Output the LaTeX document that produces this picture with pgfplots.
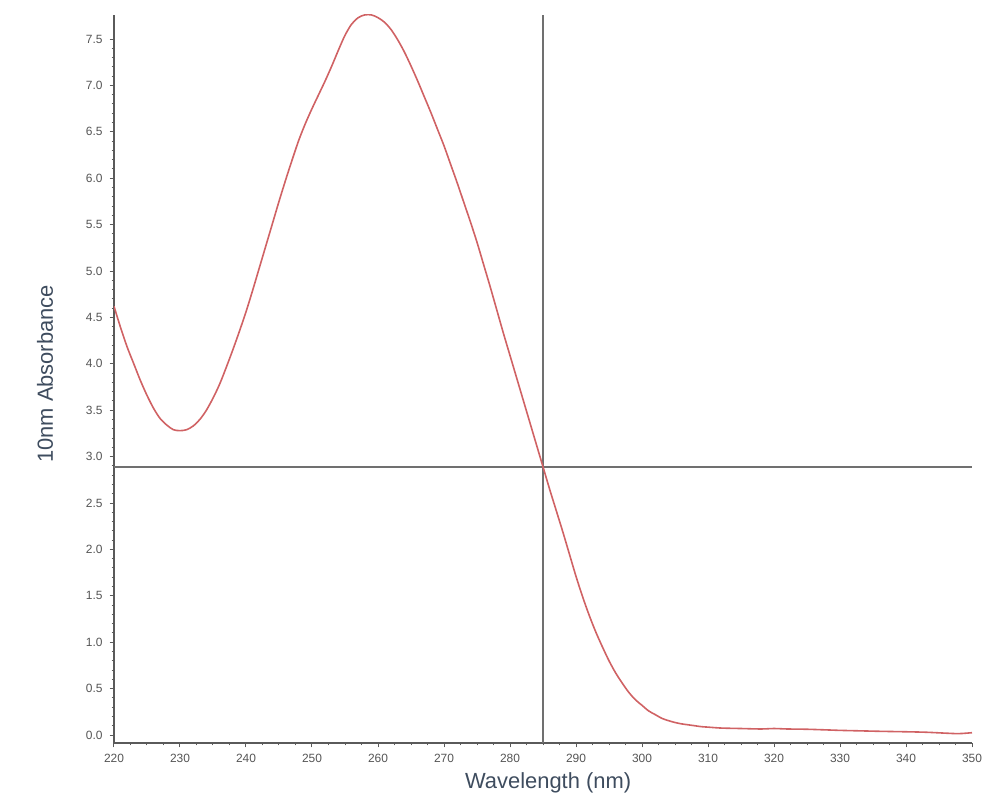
\documentclass[border=0pt]{standalone}
\usepackage{fontspec}
\setmainfont{Liberation Sans}
\usepackage{pgfplots}
\pgfplotsset{compat=1.18}

\definecolor{curvered}{RGB}{208,98,100}
\definecolor{cursorgray}{RGB}{112,112,112}
\definecolor{axisgray}{RGB}{90,90,90}
\definecolor{labelslate}{RGB}{62,76,94}
\definecolor{tickgray}{RGB}{85,85,85}

% absorbance spectrum
\pgfplotstableread{
x y
220 4.62
221 4.39
222 4.18
223 4.00
224 3.82
225 3.66
226 3.52
227 3.41
228 3.34
229 3.29
230 3.28
231 3.29
232 3.33
233 3.40
234 3.50
235 3.63
236 3.78
237 3.96
238 4.15
239 4.35
240 4.56
241 4.79
242 5.03
243 5.27
244 5.51
245 5.75
246 5.98
247 6.20
248 6.41
249 6.59
250 6.75
251 6.90
252 7.05
253 7.21
254 7.38
255 7.54
256 7.66
257 7.73
258 7.76
259 7.76
260 7.73
261 7.68
262 7.60
263 7.49
264 7.36
265 7.21
266 7.05
267 6.88
268 6.71
269 6.53
270 6.35
271 6.15
272 5.95
273 5.74
274 5.53
275 5.31
276 5.07
277 4.83
278 4.58
279 4.33
280 4.09
281 3.85
282 3.61
283 3.37
284 3.13
285 2.89
286 2.65
287 2.42
288 2.19
289 1.95
290 1.71
291 1.49
292 1.29
293 1.11
294 0.95
295 0.80
296 0.67
297 0.56
298 0.46
299 0.38
300 0.32
301 0.26
302 0.22
303 0.18
304 0.155
305 0.135
306 0.12
307 0.11
308 0.10
309 0.09
310 0.085
312 0.075
315 0.07
318 0.065
320 0.07
322 0.065
325 0.062
328 0.055
330 0.05
333 0.045
336 0.04
340 0.035
343 0.03
346 0.02
348 0.015
350 0.025
}\spectrum

\begin{document}
\begin{tikzpicture}
\begin{axis}[
    scale only axis,
    width=429bp,
    height=364bp,
    xmin=220, xmax=350,
    ymin=-0.086, ymax=7.759,
    axis lines=left,
    axis line style={-, draw=axisgray, line width=0.75bp},
    xtick={220,230,...,350},
    ytick={0,0.5,...,7.5},
    minor x tick num=3,
    minor y tick num=4,
    tick align=outside,
    major tick length=2.2bp,
    minor tick length=1.2bp,
    tick style={draw=axisgray, line width=0.5bp},
    /pgf/number format/assume math mode=true,
    ticklabel style={font=\fontsize{6}{7}\selectfont, text=tickgray},
    yticklabel style={/pgf/number format/fixed, /pgf/number format/precision=1, /pgf/number format/fixed zerofill},
    xticklabel style={/pgf/number format/fixed, /pgf/number format/1000 sep={}},
    xlabel={Wavelength (nm)},
    ylabel={10nm Absorbance},
    label style={font=\fontsize{11}{13}\selectfont, text=labelslate},
    xlabel style={at={(axis description cs:0.506,-0.0549)}, anchor=center},
    ylabel style={at={(axis description cs:-0.0804,0.507)}, anchor=center},
]

% cursor lines
\addplot[cursorgray, line width=1bp] coordinates {(285,-0.086) (285,7.759)};
\addplot[cursorgray, line width=1bp] coordinates {(220,2.885) (350,2.885)};

% spectrum
\addplot[curvered, line width=0.8bp, smooth, tension=0.5] table {\spectrum};

\end{axis}
\pgfresetboundingbox
\path[use as bounding box] (current axis.south west) ++(-57bp,-30bp) rectangle ++(500bp,401.5bp);
\end{tikzpicture}
\end{document}
